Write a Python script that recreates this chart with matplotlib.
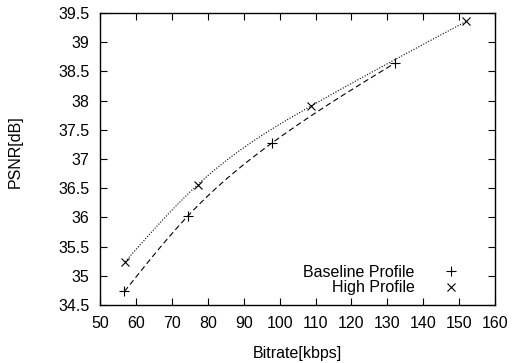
import numpy as np
import matplotlib
matplotlib.use("Agg")
import matplotlib.pyplot as plt
from matplotlib.lines import Line2D

plt.rcParams['font.family'] = ['Liberation Sans', 'DejaVu Sans']
plt.rcParams['font.size'] = 11.5

# bitrate [kbps] / PSNR [dB]
base_rate = [56.8, 74.4, 98.0, 132.0]
base_psnr = [34.73, 36.02, 37.28, 38.64]
high_rate = [57.0, 77.2, 108.8, 152.0]
high_psnr = [35.24, 36.56, 37.91, 39.36]

xticks = list(range(50, 161, 10))
yticks = [34.5, 35, 35.5, 36, 36.5, 37, 37.5, 38, 38.5, 39, 39.5]


def csplines(x, y, n=200):
    # natural cubic spline, like gnuplot's "smooth csplines"
    x = np.asarray(x, float)
    y = np.asarray(y, float)
    k = len(x)
    h = np.diff(x)
    A = np.zeros((k, k))
    r = np.zeros(k)
    A[0, 0] = A[-1, -1] = 1
    for i in range(1, k - 1):
        A[i, i - 1] = h[i - 1]
        A[i, i] = 2 * (h[i - 1] + h[i])
        A[i, i + 1] = h[i]
        r[i] = 6 * ((y[i + 1] - y[i]) / h[i] - (y[i] - y[i - 1]) / h[i - 1])
    m = np.linalg.solve(A, r)
    xs = np.linspace(x[0], x[-1], n)
    j = np.clip(np.searchsorted(x, xs) - 1, 0, k - 2)
    t0 = x[j + 1] - xs
    t1 = xs - x[j]
    hj = h[j]
    ys = (m[j] * t0 ** 3 + m[j + 1] * t1 ** 3) / (6 * hj) \
        + (y[j] / hj - m[j] * hj / 6) * t0 + (y[j + 1] / hj - m[j + 1] * hj / 6) * t1
    return xs, ys


fig = plt.figure(figsize=(5.18, 3.63), dpi=100)
ax = fig.add_axes([0.193, 0.160, 0.763, 0.804])

xs, ys = csplines(base_rate, base_psnr)
ax.plot(xs, ys, color='black', lw=0.8, ls=(0, (5, 3)))
xs, ys = csplines(high_rate, high_psnr)
ax.plot(xs, ys, color='black', lw=0.8, ls=(0, (1, 1.5)))

ax.plot(base_rate, base_psnr, ls='none', marker='+', ms=7, mew=0.8, color='black')
ax.plot(high_rate, high_psnr, ls='none', marker='x', ms=6, mew=0.8, color='black')

ax.set_xlim(50, 160)
ax.set_ylim(34.5, 39.5)
ax.set_xticks(xticks)
ax.set_yticks(yticks)
ax.set_yticklabels(['%g' % v for v in yticks])
ax.tick_params(direction='in', top=True, right=True, length=5, width=0.8)
ax.tick_params(axis='x', pad=8)
ax.tick_params(axis='y', pad=7.5)
for s in ax.spines.values():
    s.set_linewidth(1.0)

ax.set_xlabel('Bitrate[kbps]')
ax.set_ylabel('PSNR[dB]')
ax.xaxis.set_label_coords(0.5, -0.14)
ax.yaxis.set_label_coords(-0.195, 0.526)

handles = [Line2D([], [], ls='none', marker='+', ms=7, mew=0.8, color='black'),
           Line2D([], [], ls='none', marker='x', ms=6, mew=0.8, color='black')]
ax.legend(handles, ['Baseline Profile', 'High Profile'], loc='lower right',
          markerfirst=False, frameon=False, handlelength=2.5, handletextpad=1.0,
          labelspacing=0.05, borderaxespad=0.2, bbox_to_anchor=(0.962, 0.0))

fig.savefig('out.png', dpi=100)
